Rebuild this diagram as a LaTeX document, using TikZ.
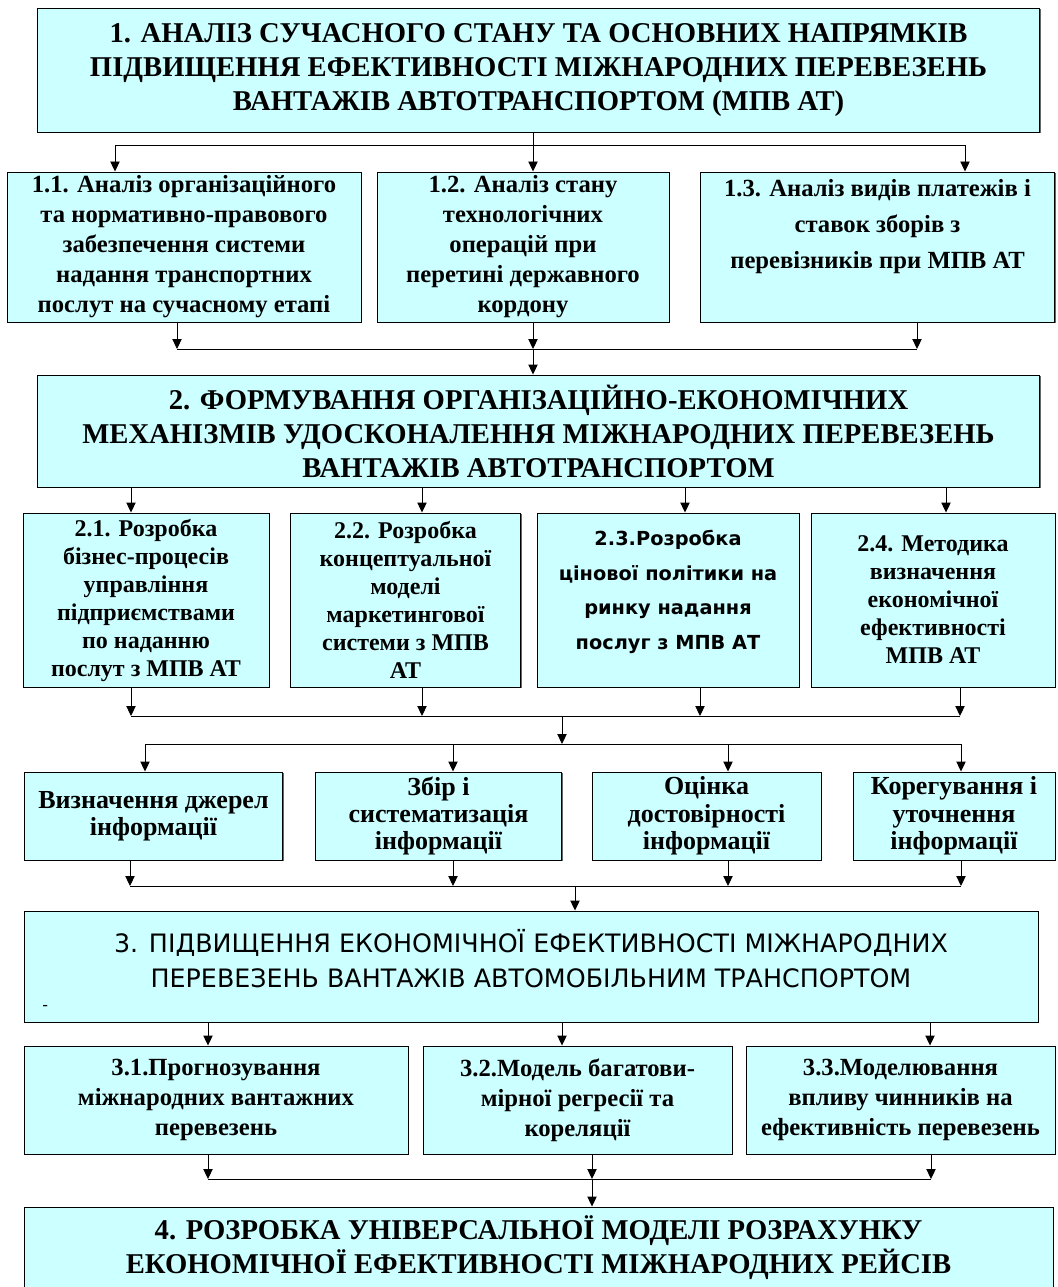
\documentclass[tikz,border=0pt]{standalone}
\usepackage{fontspec}
\setmainfont{Liberation Serif}
\newfontfamily\timesfam{Liberation Serif}
\newfontfamily\tahomafam{DejaVu Sans}
\usetikzlibrary{arrows.meta,positioning,shadows}
\definecolor{boxcyan}{RGB}{204,255,255}
\tikzset{
  blk/.style={draw, fill=boxcyan, line width=0.7pt, inner sep=1pt, align=center,
    drop shadow={shadow xshift=1.1pt, shadow yshift=-1.1pt, fill=black!60, opacity=1}},
  txt/.style={inner sep=0pt, align=center},
  arr/.style={-{Triangle[length=7.5pt,width=7pt]}, line width=0.7pt},
  lnk/.style={line width=0.7pt},
  ttltxt/.style={font=\timesfam\bfseries\fontsize{21.5}{25.5}\selectfont},
  subtxt/.style={font=\timesfam\bfseries\fontsize{18.5}{22.5}\selectfont},
  widetxt/.style={font=\timesfam\bfseries\fontsize{18}{21}\selectfont},
  sanstxt/.style={font=\tahomafam\bfseries\fontsize{14.5}{26}\selectfont},
  sansttl/.style={font=\tahomafam\fontsize{19}{26}\selectfont},
  infotxt/.style={font=\timesfam\bfseries\fontsize{19.5}{20.5}\selectfont},
}
\begin{document}
\begin{tikzpicture}[x=0.75pt,y=-0.75pt]
  \useasboundingbox (0,0) rectangle (1057,1287);
  \clip (0,0) rectangle (1057,1287);
  % Stage 1
  \node[blk, ttltxt, minimum width=752pt, minimum height=93pt] (b1) at (538.5,70)
    {1. АНАЛІЗ СУЧАСНОГО СТАНУ ТА ОСНОВНИХ НАПРЯМКІВ\\
     ПІДВИЩЕННЯ ЕФЕКТИВНОСТІ МІЖНАРОДНИХ ПЕРЕВЕЗЕНЬ\\
     ВАНТАЖІВ АВТОТРАНСПОРТОМ (МПВ АТ)};
  \node[blk, subtxt, minimum width=265.5pt, minimum height=112.5pt] (b11) at (184,247)
    {1.1. Аналіз організаційного\\ та нормативно-правового\\ забезпечення системи\\
     надання транспортних\\ послут на сучасному етапі};
  \node[blk, subtxt, minimum width=219pt, minimum height=112.5pt] (b12) at (523,247)
    {1.2. Аналіз стану\\ технологічних\\ операцій при\\ перетині державного\\ кордону};
  \node[blk, minimum width=266pt, minimum height=112.5pt] (b13) at (877.5,247) {};
  \node[txt, font=\timesfam\bfseries\fontsize{18.5}{27}\selectfont, below=6pt of b13.north] (t13)
    {1.3. Аналіз видів платежів і\\ ставок зборів з\\ перевізників при МПВ АТ};

  % Stage 2
  \node[blk, ttltxt, minimum width=752pt, minimum height=84pt] (b2) at (538.5,431)
    {2. ФОРМУВАННЯ ОРГАНІЗАЦІЙНО-ЕКОНОМІЧНИХ\\
     МЕХАНІЗМІВ УДОСКОНАЛЕННЯ МІЖНАРОДНИХ ПЕРЕВЕЗЕНЬ\\
     ВАНТАЖІВ АВТОТРАНСПОРТОМ};
  \node[blk, widetxt, minimum width=184.5pt, minimum height=130.5pt] (b21) at (146,600)
    {2.1. Розробка\\ бізнес-процесів\\ управління\\ підприємствами\\ по наданню\\ послут з МПВ АТ};
  \node[blk, widetxt, minimum width=173pt, minimum height=130.5pt] (b22) at (405.5,600)
    {2.2. Розробка\\ концептуальної\\ моделі\\ маркетингової\\ системи з МПВ\\ АТ};
  \node[blk, minimum width=196.5pt, minimum height=130.5pt] (b23) at (668,600) {};
  \node[txt, sanstxt, below=13pt of b23.north] (t23)
    {2.3.Розробка\\ цінової політики на\\ ринку надання\\ послуг з МПВ АТ};
  \node[blk, widetxt, minimum width=183pt, minimum height=130.5pt] (b24) at (933,600)
    {2.4. Методика\\ визначення\\ економічної\\ ефективності\\ МПВ АТ};

  % Information
  \node[blk, infotxt, minimum width=194pt, minimum height=66pt] (i1) at (153.5,816)
    {Визначення джерел\\ інформації};
  \node[blk, infotxt, minimum width=185pt, minimum height=66pt] (i2) at (438.5,816)
    {Збір і\\ систематизація\\ інформації};
  \node[blk, infotxt, minimum width=171.75pt, minimum height=66pt] (i3) at (706.5,816)
    {Оцінка\\ достовірності\\ інформації};
  \node[blk, infotxt, minimum width=151.5pt, minimum height=66pt] (i4) at (954,816)
    {Корегування і\\ уточнення\\ інформації};

  % Stage 3
  \node[blk, minimum width=760.5pt, minimum height=83.25pt] (b3) at (531,966.5) {};
  \node[txt, sansttl, below=14pt of b3.north] (t3)
    {3. ПІДВИЩЕННЯ ЕКОНОМІЧНОЇ ЕФЕКТИВНОСТІ МІЖНАРОДНИХ\\
     ПЕРЕВЕЗЕНЬ ВАНТАЖІВ АВТОМОБІЛЬНИМ ТРАНСПОРТОМ};
  \node[txt, font=\tahomafam\fontsize{12}{14}\selectfont, above right=9pt and 14pt of b3.south west] (d3) {-};
  \node[blk, subtxt, minimum width=288pt, minimum height=81pt] (b31) at (216,1100)
    {3.1.Прогнозування\\ міжнародних вантажних\\ перевезень};
  \node[blk, subtxt, minimum width=231.75pt, minimum height=81pt] (b32) at (577.5,1100)
    {3.2.Модель багатови-\\ мірної регресії та\\ кореляції};
  \node[blk, subtxt, minimum width=231.75pt, minimum height=81pt] (b33) at (900.5,1100)
    {3.3.Моделювання\\ впливу чинників на\\ ефективність перевезень};

  % Stage 4
  \node[blk, ttltxt, minimum width=771.75pt, minimum height=61.5pt] (b4) at (538.5,1248)
    {4. РОЗРОБКА УНІВЕРСАЛЬНОЇ МОДЕЛІ РОЗРАХУНКУ\\
     ЕКОНОМІЧНОЇ ЕФЕКТИВНОСТІ МІЖНАРОДНИХ РЕЙСІВ};

  % Junction points
  \coordinate (s1l) at (115,145);  \coordinate (s1) at (533,145);  \coordinate (s1r) at (965,145);
  \coordinate (m1l) at (177,349);  \coordinate (m1) at (533,349);  \coordinate (m1r) at (917,349);
  \coordinate (s2a) at (131,500);  \coordinate (s2b) at (422,500);
  \coordinate (s2c) at (685,500);  \coordinate (s2d) at (946,500);
  \coordinate (m2a) at (131,716);  \coordinate (m2b) at (422,716);
  \coordinate (m2c) at (700,716);  \coordinate (m2d) at (960,716);  \coordinate (m2) at (562,716);
  \coordinate (s3a) at (145,744);  \coordinate (s3b) at (453,744);
  \coordinate (s3c) at (728,744);  \coordinate (s3d) at (961,744);  \coordinate (s3) at (562,744);
  \coordinate (m3a) at (130,886);  \coordinate (m3b) at (453,886);
  \coordinate (m3c) at (728,886);  \coordinate (m3d) at (961,886);  \coordinate (m3) at (575,886);
  \coordinate (s4a) at (208,1034); \coordinate (s4b) at (562,1034); \coordinate (s4c) at (930,1034);
  \coordinate (m4l) at (208,1179); \coordinate (m4) at (592,1179); \coordinate (m4r) at (931,1179);

  % Stage 1 connectors
  \draw[lnk] (b1.south -| s1) -- (s1);
  \draw[lnk] (s1l) -- (s1r);
  \draw[arr] (s1l) -- (s1l |- b11.north);
  \draw[arr] (s1) -- (s1 |- b12.north);
  \draw[arr] (s1r) -- (s1r |- b13.north);
  \draw[arr] (m1l |- b11.south) -- (m1l);
  \draw[arr] (m1 |- b12.south) -- (m1);
  \draw[arr] (m1r |- b13.south) -- (m1r);
  \draw[lnk] (m1l) -- (m1r);
  \draw[arr] (m1) -- (m1 |- b2.north);

  % Stage 2 connectors
  \draw[arr] (s2a |- b2.south) -- (s2a |- b21.north);
  \draw[arr] (s2b |- b2.south) -- (s2b |- b22.north);
  \draw[arr] (s2c |- b2.south) -- (s2c |- b23.north);
  \draw[arr] (s2d |- b2.south) -- (s2d |- b24.north);
  \draw[arr] (m2a |- b21.south) -- (m2a);
  \draw[arr] (m2b |- b22.south) -- (m2b);
  \draw[arr] (m2c |- b23.south) -- (m2c);
  \draw[arr] (m2d |- b24.south) -- (m2d);
  \draw[lnk] (m2a) -- (m2d);
  \draw[arr] (m2) -- (s3);
  \draw[lnk] (s3a) -- (s3d);
  \draw[arr] (s3a) -- (s3a |- i1.north);
  \draw[arr] (s3b) -- (s3b |- i2.north);
  \draw[arr] (s3c) -- (s3c |- i3.north);
  \draw[arr] (s3d) -- (s3d |- i4.north);

  % Stage 3 connectors
  \draw[arr] (m3a |- i1.south) -- (m3a);
  \draw[arr] (m3b |- i2.south) -- (m3b);
  \draw[arr] (m3c |- i3.south) -- (m3c);
  \draw[arr] (m3d |- i4.south) -- (m3d);
  \draw[lnk] (m3a) -- (m3d);
  \draw[arr] (m3) -- (m3 |- b3.north);
  \draw[arr] (s4a |- b3.south) -- (s4a |- b31.north);
  \draw[arr] (s4b |- b3.south) -- (s4b |- b32.north);
  \draw[arr] (s4c |- b3.south) -- (s4c |- b33.north);

  % Stage 4 connectors
  \draw[arr] (m4l |- b31.south) -- (m4l);
  \draw[arr] (m4 |- b32.south) -- (m4);
  \draw[arr] (m4r |- b33.south) -- (m4r);
  \draw[lnk] (m4l) -- (m4r);
  \draw[arr] (m4) -- (m4 |- b4.north);
\end{tikzpicture}
\end{document}
